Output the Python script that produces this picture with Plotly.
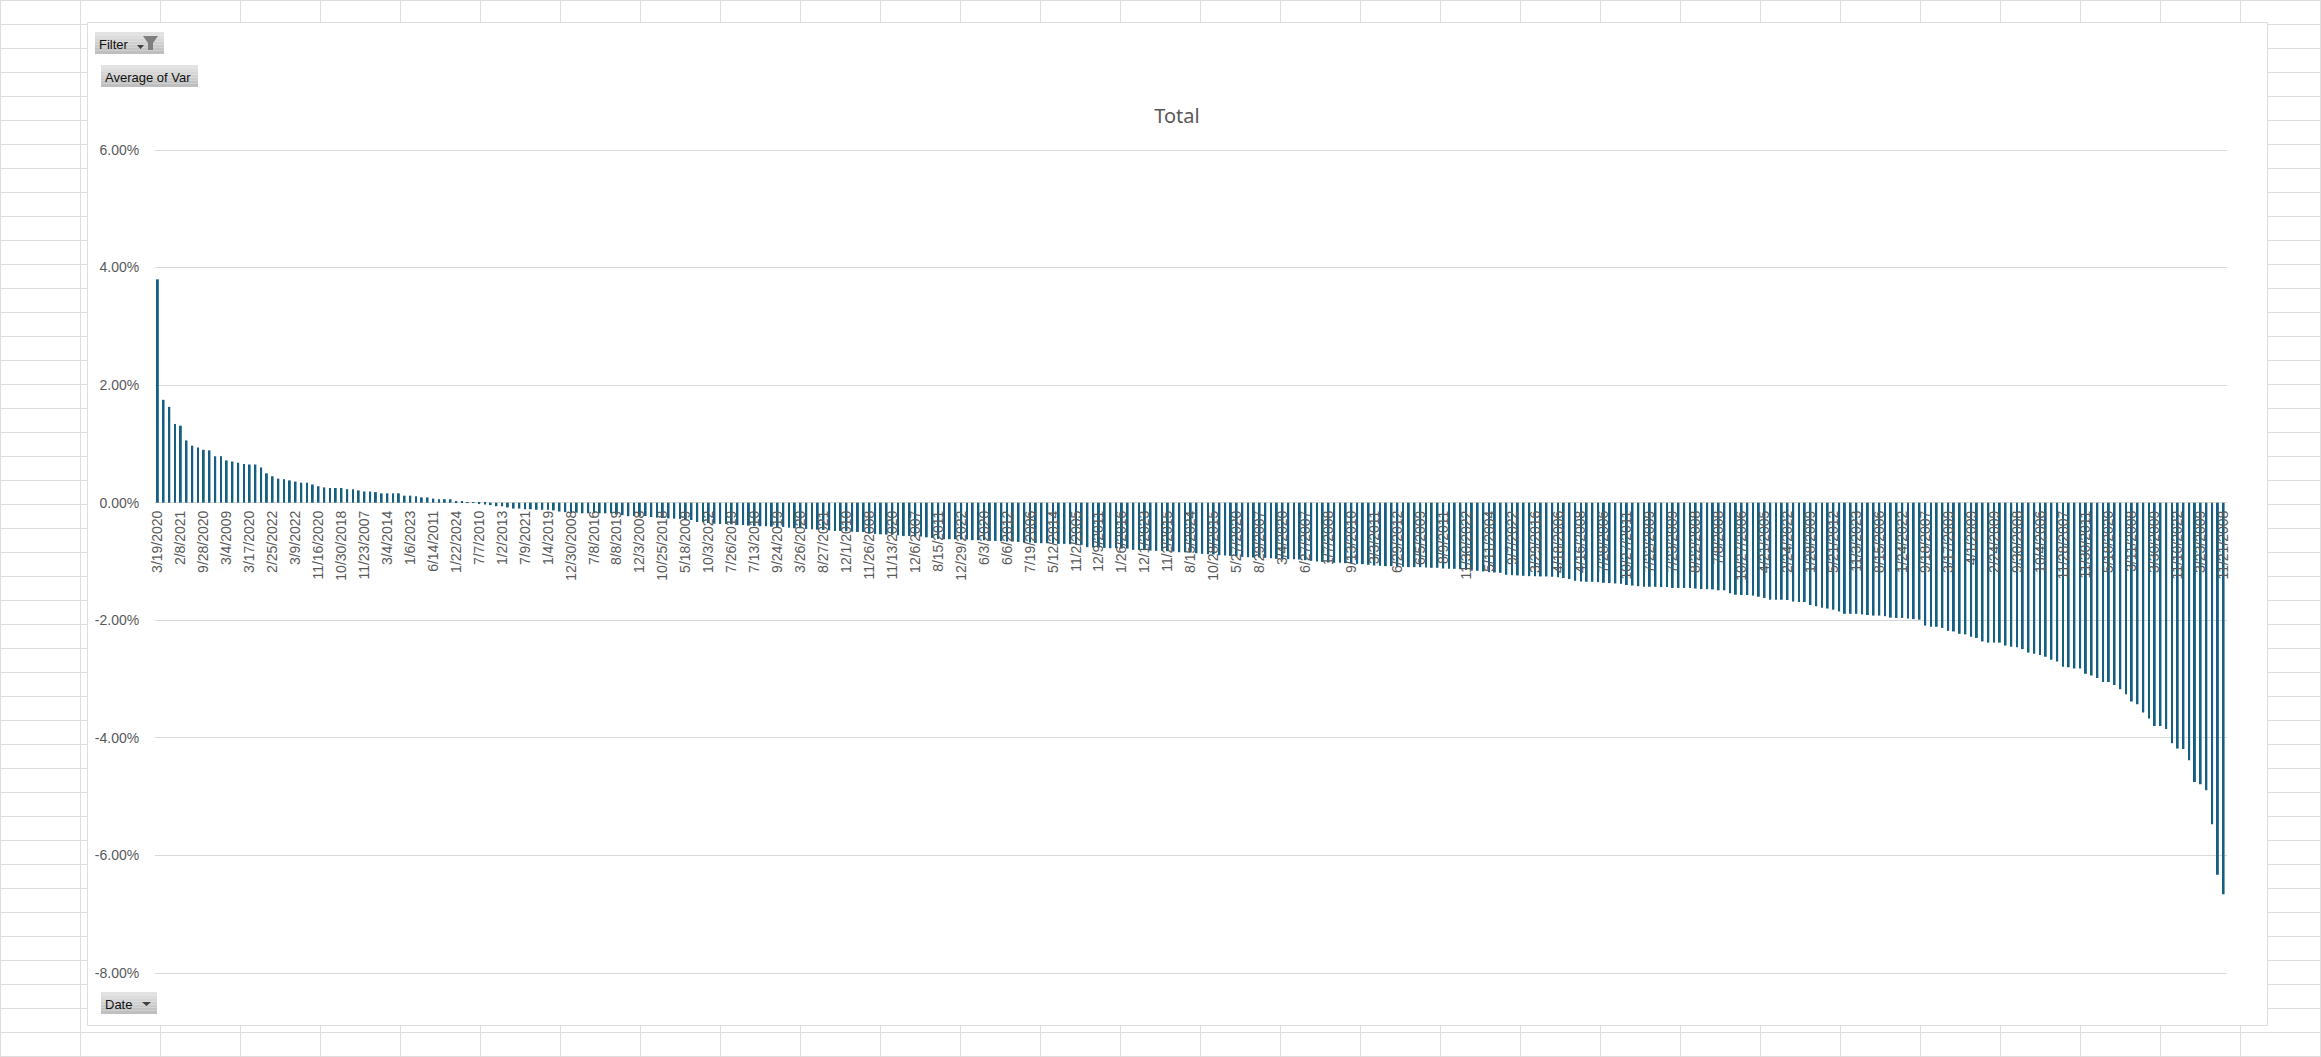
import plotly.graph_objects as go

W, H = 2321, 1057

tick_labels = ["3/19/2020","2/8/2021","9/28/2020","3/4/2009","3/17/2020","2/25/2022","3/9/2022","11/16/2020","10/30/2018","11/23/2007",
"3/4/2014","1/6/2023","6/14/2011","1/22/2024","7/7/2010","1/2/2013","7/9/2021","1/4/2019","12/30/2008","7/8/2016",
"8/8/2019","12/3/2008","10/25/2018","5/18/2009","10/3/2022","7/26/2019","7/13/2010","9/24/2019","3/26/2020","8/27/2021",
"12/1/2010","11/26/2008","11/13/2020","12/6/2007","8/15/2011","12/29/2022","6/3/2020","6/6/2012","7/19/2006","5/12/2014",
"11/2/2005","12/9/2011","1/26/2016","12/1/2023","11/2/2015","8/15/2024","10/28/2015","5/27/2020","8/29/2007","3/4/2020",
"6/27/2007","1/7/2008","9/13/2010","3/3/2011","6/29/2012","6/5/2009","8/9/2011","11/30/2022","5/11/2004","9/7/2022",
"3/29/2016","4/18/2006","4/16/2008","7/28/2006","10/27/2011","7/22/2009","7/23/2009","8/22/2008","7/8/2008","10/27/2006",
"4/21/2005","2/24/2022","1/28/2009","5/21/2012","11/3/2023","8/15/2006","1/24/2022","9/18/2007","3/17/2009","4/1/2009",
"2/24/2009","9/30/2008","10/4/2006","11/28/2007","11/30/2011","5/18/2020","3/11/2008","3/30/2009","11/10/2022","3/23/2009","11/21/2008"]

y_tick_values = [6, 4, 2, 0, -2, -4, -6, -8]
y_tick_labels = ["6.00%", "4.00%", "2.00%", "0.00%", "-2.00%", "-4.00%", "-6.00%", "-8.00%"]

avg_var_a = [3.80,1.75,1.63,1.34,1.31,1.06,.97,.94,.90,.89,
.79,.79,.72,.70,.68,.66,.65,.65,.60,.50,
.45,.41,.40,.38,.36,.34,.34,.31,.28,.26,
.25,.25,.25,.23,.23,.21,.19,.19,.18,.16,
.16,.16,.16,.12,.12,.11,.09,.09,.07,.06,
.06,.06,.03,.02,.01,.005,-.02,-.03,-.04,-.06,
-.06,-.08,-.10,-.10,-.11,-.11,-.12,-.12,-.12,-.13,
-.15,-.16,-.17,-.17,-.18,-.18,-.18,-.18,-.18,-.18,
-.20,-.21,-.23]

avg_var_b = [-.226,-.226,-.226,-.243,-.254,-.26,-.266,-.271,-.277,-.288,
-.294,-.328,-.333,-.345,-.356,-.362,-.362,-.367,-.379,-.379,
-.39,-.395,-.40,-.40,-.407,-.412,-.412,-.424,-.435,-.435,
-.446,-.452,-.458,-.463,-.469,-.48,-.48,-.486,-.492,-.497,
-.497,-.525,-.531,-.537,-.542,-.548,-.554,-.565,-.565,-.576,
-.576,-.588,-.599,-.616,-.621,-.621,-.621,-.627,-.627,-.638,
-.638,-.638,-.65,-.65,-.655,-.661,-.661,-.667,-.678,-.678,
-.684,-.689,-.689,-.695,-.70,-.70,-.706,-.712,-.718,-.757,
-.763,-.763,-.768,-.774,-.774,-.78,-.78]

avg_var_c = [-.802,-.802,-.808,-.814,-.819,-.819,-.825,-.831,-.842,-.842,
-.847,-.859,-.87,-.876,-.881,-.893,-.898,-.904,-.91,-.921,
-.927,-.932,-.932,-.938,-.944,-.955,-.955,-.96,-.96,-.966,
-.977,-.989,-1.0,-1.006,-1.017,-1.023,-1.023,-1.028,-1.028,-1.04,
-1.045,-1.056,-1.068,-1.073,-1.079,-1.079,-1.085,-1.09,-1.096,-1.096,
-1.096,-1.102,-1.107,-1.107,-1.119,-1.124,-1.124,-1.13,-1.141,-1.153,
-1.158,-1.169,-1.181,-1.186,-1.192,-1.226,-1.232,-1.237,-1.243,-1.249,
-1.249,-1.254,-1.254,-1.26,-1.266,-1.282,-1.299,-1.328,-1.339,-1.345,
-1.345,-1.35,-1.362,-1.367,-1.373,-1.379,-1.40]

avg_var_d = [-1.41,-1.42,-1.43,-1.43,-1.43,-1.435,-1.435,-1.45,-1.45,-1.45,
-1.45,-1.46,-1.47,-1.47,-1.475,-1.49,-1.49,-1.54,-1.565,-1.57,
-1.57,-1.58,-1.60,-1.62,-1.65,-1.65,-1.65,-1.655,-1.68,-1.69,
-1.69,-1.74,-1.76,-1.785,-1.80,-1.82,-1.85,-1.89,-1.89,-1.89,
-1.90,-1.91,-1.92,-1.92,-1.93,-1.955,-1.96,-1.96,-1.97,-1.98,-1.99]

avg_var_e = [-2.09,-2.11,-2.11,-2.13,-2.18,-2.19,-2.23,-2.24,-2.28,-2.30,
-2.36,-2.38,-2.38,-2.38,-2.43,-2.45,-2.46,-2.49,-2.55,-2.57,
-2.59,-2.62,-2.67,-2.70,-2.79,-2.80,-2.82,-2.82,-2.91,-2.94,-2.98,
-3.05,-3.05,-3.10,-3.175,-3.26,-3.38,-3.43,-3.57,-3.67,-3.80,
-3.80,-3.85,-4.09,-4.18,-4.19,-4.38,-4.75,-4.79,-4.89,-5.47,-6.33,-6.66]

values = avg_var_a + avg_var_b + avg_var_c + avg_var_d + avg_var_e
n = len(values)
positions = list(range(n))
tick_step = 4

def px(x):
    return x / W
def py(y):
    return 1 - y / H

GRID = "#dedede"
shapes = []
# spreadsheet grid
for x in range(0, W + 1, 80):
    shapes.append(dict(type="line", xref="paper", yref="paper", x0=px(x + .5), x1=px(x + .5), y0=0, y1=1,
                       line=dict(color=GRID, width=1), layer="below"))
for y in range(0, H + 1, 24):
    shapes.append(dict(type="line", xref="paper", yref="paper", x0=0, x1=1, y0=py(y + .5), y1=py(y + .5),
                       line=dict(color=GRID, width=1), layer="below"))
# chart area
shapes.append(dict(type="rect", xref="paper", yref="paper", x0=px(87.5), x1=px(2267.5), y0=py(1025.5), y1=py(22.5),
                   fillcolor="white", line=dict(color=GRID, width=1), layer="below"))

def button(x0, y0, x1, y1):
    bands = ["#e2e2e2", "#dcdcdc", "#d6d6d6", "#d0d0d0", "#cacaca", "#c4c4c4", "#bfbfbf"]
    h = (y1 - y0) / len(bands)
    for i, c in enumerate(bands):
        shapes.append(dict(type="rect", xref="paper", yref="paper", x0=px(x0), x1=px(x1),
                           y0=py(y0 + (i + 1) * h), y1=py(y0 + i * h), fillcolor=c, line=dict(width=0), layer="below"))

def poly(pts, color):
    path = "M " + " L ".join(f"{px(a):.6f},{py(b):.6f}" for a, b in pts) + " Z"
    shapes.append(dict(type="path", xref="paper", yref="paper", path=path, fillcolor=color,
                       line=dict(width=0), layer="above"))

button(95, 32, 164, 54)
button(101, 65, 198, 87)
button(101, 992, 157, 1014)
poly([(137, 45), (144, 45), (140.5, 49)], "#404040")
poly([(143, 36), (158, 36), (153, 43), (153, 50), (148, 50), (148, 43)], "#7f7f7f")
poly([(142, 1002), (151, 1002), (146.5, 1006)], "#404040")

def label(text, x, y):
    return dict(text=text, xref="paper", yref="paper", x=px(x), y=py(y), xanchor="left", yanchor="middle",
                showarrow=False, font=dict(family="Liberation Sans, Arial", size=13, color="#111111"))

annotations = [label("Filter", 97, 44), label("Average of Var", 103, 77), label("Date", 103, 1004)]

# y range runs a little past the outer ticks so that their gridlines are kept
PAD = 0.05
PX_PER_UNIT = (973 - 150) / 14

fig = go.Figure(go.Bar(x=positions, y=values, marker=dict(color="#156082", line=dict(width=0)), width=0.33))
fig.update_layout(
    template=None,
    width=W, height=H, autosize=False, margin=dict(l=0, r=0, t=0, b=0, pad=0),
    paper_bgcolor="white", plot_bgcolor="rgba(0,0,0,0)", showlegend=False,
    title=dict(text="Total", x=1177 / W, xanchor="center", y=py(115.5), yanchor="middle",
               font=dict(family="Noto Sans, Liberation Sans", size=20, color="#595959")),
    shapes=shapes, annotations=annotations,
    xaxis=dict(automargin=False, domain=[155 / W, 2226.5 / W], range=[-0.5, n - 0.5], anchor="free", position=py(503),
               tickmode="array", tickvals=positions[::tick_step], ticktext=tick_labels,
               tickangle=-90, showgrid=False, zeroline=False, showline=False,
               ticks="outside", ticklen=1, tickcolor="rgba(0,0,0,0)",
               tickfont=dict(family="Liberation Sans, Arial", size=14, color="#595959")),
    yaxis=dict(automargin=False, domain=[py(973 + PAD * PX_PER_UNIT), py(150 - PAD * PX_PER_UNIT)], range=[-8 - PAD, 6 + PAD],
               tickmode="array", tickvals=y_tick_values, ticktext=y_tick_labels,
               showgrid=True, gridcolor="#d9d9d9", gridwidth=1,
               zeroline=False, showline=False,
               ticks="outside", ticklen=12, tickcolor="rgba(0,0,0,0)",
               tickfont=dict(family="Liberation Sans, Arial", size=14, color="#595959")),
)
fig.write_html("out.html", config=dict(displayModeBar=False),
               post_script="document.body.style.margin='0';document.body.style.overflow='hidden';")
